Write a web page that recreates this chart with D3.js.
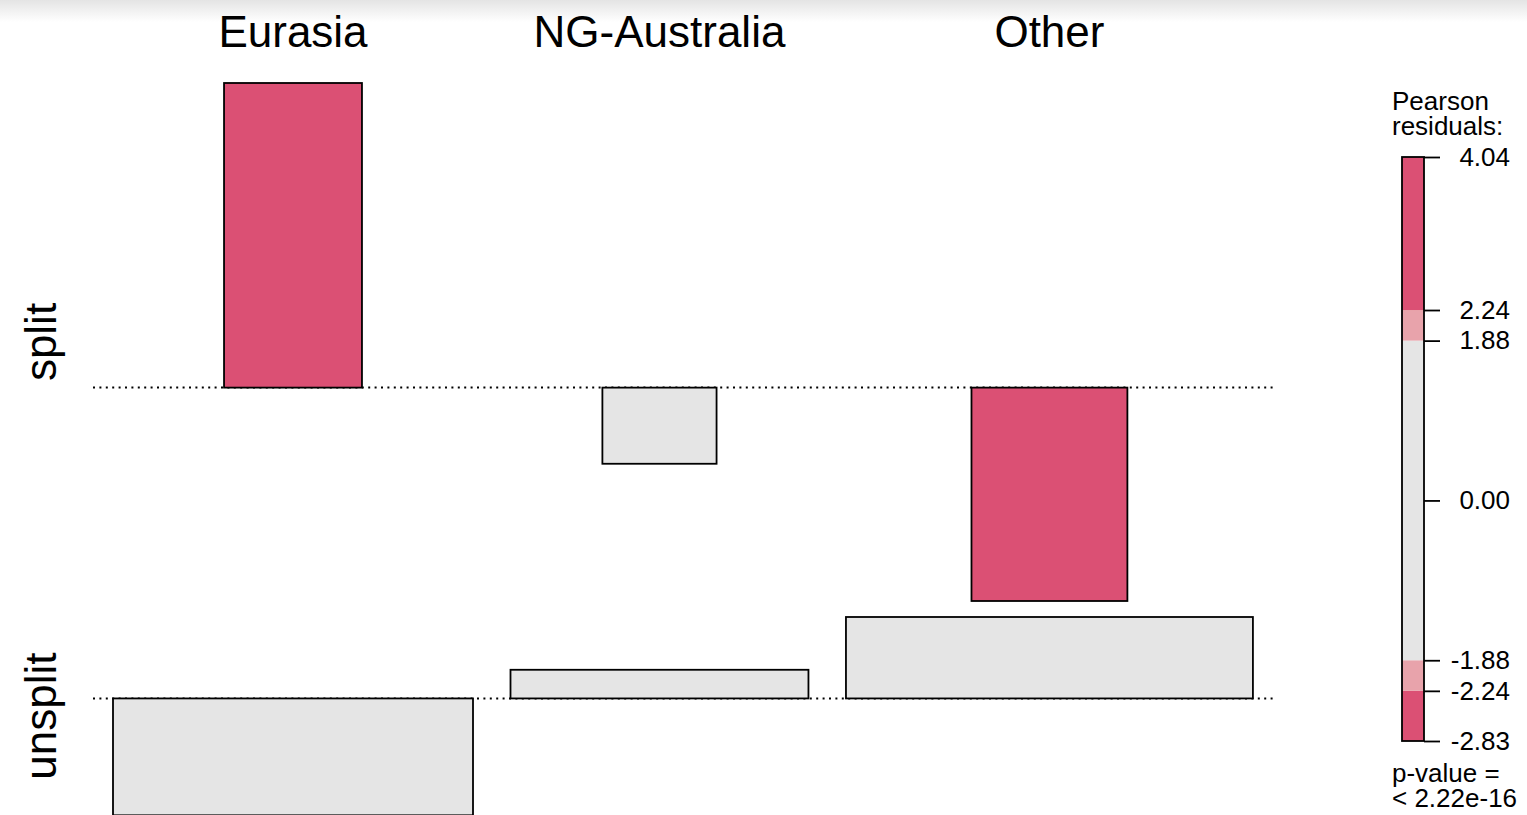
<!DOCTYPE html>
<html>
<head>
<meta charset="utf-8">
<script src="https://cdn.jsdelivr.net/npm/d3@7"></script>
<style>
  html, body { margin: 0; padding: 0; background: #fff; }
  svg { display: block; font-family: "Liberation Sans", Arial, sans-serif; }
</style>
</head>
<body>
<div id="chart"></div>
<script>
// Association plot data (columns x rows)
var columns = ["Eurasia", "NG-Australia", "Other"];
var rows = ["split", "unsplit"];
// expected counts per cell (row split, row unsplit) -> box widths
var expectedSplit = [43.2, 29.6, 55.2];
var expectedUnsplit = [294.3, 201.6, 376.1];
// Pearson residuals -> box heights
var residSplit = [4.04, -1.01, -2.83];
var residUnsplit = [-1.55, 0.38, 1.08];
// legend
var legendTicks = [4.04, 2.24, 1.88, 0.00, -1.88, -2.24, -2.83];
var legendBreaks = [-2.83, -2.24, -1.88, 1.88, 2.24, 4.04];
var pValueText = ["p-value =", "< 2.22e-16"];

var width = 1527, height = 815;

var svg = d3.select("#chart").append("svg")
  .attr("width", width)
  .attr("height", height);

// faint shadow at the top of the screenshot
var defs = svg.append("defs");
var grad = defs.append("linearGradient").attr("id", "topShade")
  .attr("x1", 0).attr("y1", 0).attr("x2", 0).attr("y2", 1);
grad.append("stop").attr("offset", "0%").attr("stop-color", "#e4e4e4");
grad.append("stop").attr("offset", "100%").attr("stop-color", "#ffffff");
svg.append("rect").attr("x", 0).attr("y", 0).attr("width", width).attr("height", 22)
  .attr("fill", "url(#topShade)");

var red = "#db5074", pink = "#e8a3ab", grey = "#e5e5e5";

// fill by residual size
function fillFor(r) {
  var a = Math.abs(r);
  if (a > 2.24) return red;
  if (a > 1.88) return pink;
  return grey;
}

// cell table
var cells = [];
columns.forEach(function(c, j) {
  cells.push({col: j, row: 0, e: expectedSplit[j], r: residSplit[j]});
  cells.push({col: j, row: 1, e: expectedUnsplit[j], r: residUnsplit[j]});
});

// widths: px per sqrt(expected)
var wScale = d3.scaleLinear()
  .domain([0, Math.sqrt(expectedUnsplit[0])])
  .range([0, 360]);

var colWidth = columns.map(function(c, j) {
  return wScale(Math.max(Math.sqrt(expectedSplit[j]), Math.sqrt(expectedUnsplit[j])));
});
var colGap = 37.5, plotLeft = 113;
var colStart = [];
var acc = plotLeft;
colWidth.forEach(function(w) { colStart.push(acc); acc += w + colGap; });
var plotRight = acc - colGap;

// heights: px per residual unit, row by row
var hUnit = 75.4, rowGap = 16, plotTop = 83;
var rowInfo = [];
var yTop = plotTop;
[residSplit, residUnsplit].forEach(function(res) {
  var maxPos = Math.max(0, d3.max(res));
  var maxNeg = Math.max(0, -d3.min(res));
  var y = d3.scaleLinear()
    .domain([maxPos, -maxNeg])
    .range([yTop, yTop + (maxPos + maxNeg) * hUnit]);
  rowInfo.push({y: y, top: yTop, bottom: y(-maxNeg)});
  yTop = y(-maxNeg) + rowGap;
});

// baselines
var g = svg.append("g");
rowInfo.forEach(function(ri) {
  g.append("line")
    .attr("x1", plotLeft - 20).attr("x2", plotRight + 24)
    .attr("y1", ri.y(0)).attr("y2", ri.y(0))
    .attr("stroke", "#000").attr("stroke-width", 2)
    .attr("stroke-dasharray", "2,4.4");
});

// boxes
g.selectAll("rect.cell")
  .data(cells)
  .enter().append("rect")
  .attr("class", "cell")
  .attr("x", function(d) { return colStart[d.col] + colWidth[d.col] / 2 - wScale(Math.sqrt(d.e)) / 2; })
  .attr("width", function(d) { return wScale(Math.sqrt(d.e)); })
  .attr("y", function(d) { var y = rowInfo[d.row].y; return Math.min(y(0), y(d.r)); })
  .attr("height", function(d) { var y = rowInfo[d.row].y; return Math.abs(y(d.r) - y(0)); })
  .attr("fill", function(d) { return fillFor(d.r); })
  .attr("stroke", "#000")
  .attr("stroke-width", 1.8);

// column labels
svg.selectAll("text.col")
  .data(columns)
  .enter().append("text")
  .attr("class", "col")
  .attr("x", function(d, j) { return colStart[j] + colWidth[j] / 2; })
  .attr("y", 47)
  .attr("text-anchor", "middle")
  .style("font-size", "44px")
  .text(function(d) { return d; });

// row labels
svg.selectAll("text.row")
  .data(rows)
  .enter().append("text")
  .attr("class", "row")
  .attr("transform", function(d, i) {
    return "translate(56," + ((rowInfo[i].top + rowInfo[i].bottom) / 2) + ") rotate(-90)";
  })
  .attr("text-anchor", "middle")
  .style("font-size", "44px")
  .text(function(d) { return d; });

// legend
var lx = 1402, lw = 22;
var ly = d3.scaleLinear().domain([-2.83, 4.04]).range([741, 157]);
var leg = svg.append("g");

leg.append("text").attr("x", 1392).attr("y", 110).style("font-size", "26px").text("Pearson");
leg.append("text").attr("x", 1392).attr("y", 135).style("font-size", "26px").text("residuals:");

for (var k = 0; k < legendBreaks.length - 1; k++) {
  var mid = (legendBreaks[k] + legendBreaks[k + 1]) / 2;
  leg.append("rect")
    .attr("x", lx).attr("width", lw)
    .attr("y", ly(legendBreaks[k + 1]))
    .attr("height", ly(legendBreaks[k]) - ly(legendBreaks[k + 1]))
    .attr("fill", fillFor(mid));
}
leg.append("rect")
  .attr("x", lx).attr("width", lw)
  .attr("y", ly(4.04)).attr("height", ly(-2.83) - ly(4.04))
  .attr("fill", "none").attr("stroke", "#000").attr("stroke-width", 1.8);

var axis = d3.axisRight(ly)
  .tickValues(legendTicks)
  .tickSize(16)
  .tickPadding(0)
  .tickFormat(d3.format(".2f"));

var axG = leg.append("g")
  .attr("transform", "translate(" + (lx + lw) + ",0)")
  .call(axis);
axG.select(".domain").remove();
axG.selectAll(".tick line").attr("stroke", "#000").attr("stroke-width", 1.8);
axG.selectAll(".tick text")
  .attr("fill", "#000")
  .attr("x", 1510 - lx - lw)
  .attr("text-anchor", "end")
  .style("font-size", "26px")
  .style("font-family", "Liberation Sans, Arial, sans-serif")
  .text(function(d) { return d3.format(".2f")(d).replace("−", "-"); });

leg.selectAll("text.pv")
  .data(pValueText)
  .enter().append("text")
  .attr("class", "pv")
  .attr("x", 1392)
  .attr("y", function(d, i) { return 782 + i * 25; })
  .style("font-size", "26px")
  .text(function(d) { return d; });
</script>
</body>
</html>
